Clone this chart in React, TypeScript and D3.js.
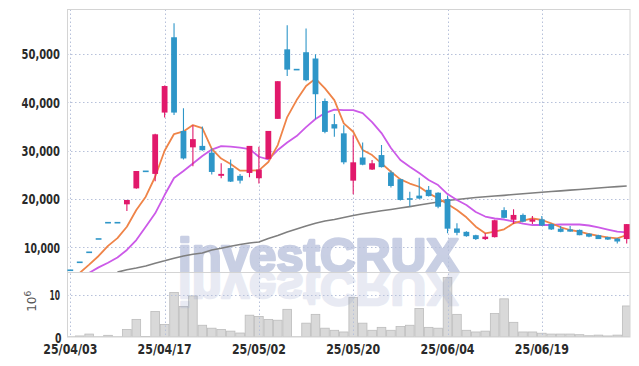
import React from "react";
import * as d3 from "d3";

const dates = [
  "25/04/03","25/04/04","25/04/07","25/04/08","25/04/09","25/04/10","25/04/11","25/04/14","25/04/15","25/04/16",
  "25/04/17","25/04/18","25/04/21","25/04/22","25/04/23","25/04/24","25/04/25","25/04/28","25/04/29","25/04/30",
  "25/05/02","25/05/07","25/05/08","25/05/09","25/05/12","25/05/13","25/05/14","25/05/15","25/05/16","25/05/19",
  "25/05/20","25/05/21","25/05/22","25/05/23","25/05/26","25/05/27","25/05/28","25/05/29","25/05/30","25/06/02",
  "25/06/04","25/06/05","25/06/09","25/06/10","25/06/11","25/06/12","25/06/13","25/06/16","25/06/17","25/06/18",
  "25/06/19","25/06/20","25/06/23","25/06/24","25/06/25","25/06/26","25/06/27","25/06/30","25/07/01","25/07/02",
];

const openP = [
  5240, 6890, 8960, 11720, 15090, 15090, 18900, 22200, 25730, 25200,
  37900, 53500, 34100, 30700, 31000, 29600, 24800, 26400, 24800, 25400,
  24300, 28300, 36600, 51000, 46800, 50400, 49100, 40300, 35500, 33600,
  23800, 28600, 26100, 29100, 25500, 24100, 20100, 20700, 21900, 21300,
  20000, 13900, 13200, 12500, 11700, 12100, 17700, 15700, 16700, 15300,
  15800, 14800, 13850, 13700, 13600, 12800, 12500, 12100, 11800, 11700,
];
const highP = [
  5240, 6890, 8960, 11720, 15090, 15090, 19800, 25800, 25730, 33500,
  43500, 56400, 38800, 35300, 35000, 30500, 27400, 28200, 25200, 31000,
  30800, 34100, 44400, 56000, 46800, 55300, 50000, 40800, 37600, 35300,
  33200, 31700, 28100, 31200, 25900, 24200, 21500, 24400, 22700, 21400,
  20700, 15000, 13300, 12600, 12900, 15700, 18300, 17900, 17000, 16500,
  16500, 14900, 14400, 14400, 13700, 12900, 12600, 12200, 11900, 14800,
];
const lowP = [
  5240, 6890, 8960, 11720, 15090, 15090, 17500, 22100, 25730, 23700,
  36900, 37400, 28200, 26800, 30000, 25100, 24300, 23500, 23200, 24500,
  23200, 28300, 36600, 45500, 46800, 44400, 36500, 33600, 32900, 27200,
  21000, 27000, 26000, 26500, 22400, 19700, 18500, 20000, 20500, 18100,
  12900, 12500, 12200, 11500, 11500, 12000, 16000, 14800, 15200, 14800,
  14400, 13600, 13100, 13200, 12500, 12100, 11700, 11500, 10800, 10800,
];
const closeP = [
  5240, 6890, 8960, 11720, 15090, 15090, 19800, 25800, 25730, 33400,
  43400, 37900, 28400, 32400, 30100, 25600, 25200, 23600, 23800, 31000,
  26100, 34100, 44400, 46800, 46800, 44600, 41700, 33900, 34600, 27600,
  27600, 27100, 27400, 26600, 22700, 19800, 19900, 20100, 20600, 18400,
  13850, 13000, 12300, 11700, 12200, 15600, 16100, 16700, 15300, 15800,
  14500, 13700, 13200, 13250, 12500, 12200, 11700, 11600, 11200, 14800,
];
// volume in millions of shares
const volume = [
  0.05, 0.25, 0.7, 0.05, 0.4, 0.05, 1.8, 4.2, 0.1, 6.1,
  3.0, 10.6, 7.3, 9.8, 2.8, 2.1, 1.8, 1.4, 0.95, 5.2,
  4.9, 4.2, 4.0, 6.6, 0.05, 3.3, 5.4, 2.1, 1.6, 1.2,
  9.4, 3.3, 1.6, 2.3, 1.6, 2.5, 2.8, 6.8, 2.3, 2.1,
  14.2, 5.4, 1.6, 1.2, 1.4, 5.6, 9.1, 3.5, 1.2, 1.2,
  0.9, 0.7, 0.7, 0.7, 0.55, 0.3, 0.45, 0.25, 0.45, 7.4,
];
const ma5: (number | null)[] = [
  null, 4700, 6400, 8200, 10300, 11900, 14260, 17720, 20470, 24610,
  29990, 33450, 34000, 35310, 34700, 30400, 28380, 27240, 25860, 25860,
  25940, 27660, 31170, 36970, 40490, 43390, 44940, 42910, 40490, 35670,
  33930, 30140, 29100, 27390, 25650, 24070, 23200, 22540, 21170, 20140,
  18960, 17720, 16210, 14260, 12900, 13230, 13720, 14970, 15500, 16000,
  15650, 14970, 14140, 13580, 13230, 12750, 12340, 12070, 11860, 12540,
];
const ma10: (number | null)[] = [
  null, null, 4700, 5840, 6810, 7890, 9440, 11500, 14260, 17040,
  20820, 24340, 25790, 27340, 28900, 30240, 30970, 30860, 30660, 30350,
  28750, 28210, 30140, 31690, 33040, 34900, 36560, 37800, 38520, 38420,
  38420, 37800, 35940, 33660, 30550, 28070, 26680, 25380, 23930, 22890,
  21030, 19790, 18750, 17310, 16370, 15960, 15750, 15340, 14920, 14610,
  14610, 14610, 14720, 14760, 14720, 14510, 14140, 13680, 13230, 13100,
];
const maLong: (number | null)[] = [
  null, null, null, null, null, 4850, 5340, 5710, 6130, 6710,
  7200, 7740, 8200, 8550, 8820, 9440, 9790, 10200, 10580, 10890,
  11100, 11820, 12440, 13170, 13790, 14410, 14990, 15440, 15750, 16170,
  16580, 16930, 17260, 17550, 17840, 18130, 18420, 18750, 19060, 19380,
  19690, 19890, 20100, 20310, 20470, 20620, 20760, 20930, 21090, 21240,
  21400, 21550, 21690, 21840, 21980, 22130, 22270, 22420, 22560, 22690,
];

const priceTicks = [10000, 20000, 30000, 40000, 50000];
const volumeTicks = [0, 10];
const dateTickIdx = [0, 10, 20, 30, 40, 50];

const W = 639;
const H = 366;
const L = 67;
const R = 630;
const TOP = 9.5;
const MID = 272;
const BOT = 337;

const UP = "#e1196b";
const DOWN = "#2e96c8";
const FONT = "'DejaVu Sans Condensed', 'DejaVu Sans', sans-serif";

export default function App() {
  const idx = d3.range(dates.length);
  const x = d3.scalePoint<number>().domain(idx).range([L, R]).padding(0.35);
  const yP = d3.scaleLinear().domain([4880, 59250]).range([MID, TOP]);
  const yV = d3.scaleLinear().domain([0, 15.5]).range([BOT, MID]);
  const step = x.step();

  const mkLine = (arr: (number | null)[]) =>
    d3
      .line<number | null>()
      .defined((d) => d != null)
      .x((_, i) => x(i) as number)
      .y((d) => yP(d as number))(arr) || "";

  const fmt = d3.format(",");

  const wm = (
    <text
      x={178}
      y={MID}
      fontFamily="'Liberation Sans', Arial, sans-serif"
      fontWeight="bold"
      fontSize={49}
      textLength={281}
      lengthAdjust="spacingAndGlyphs"
      fill="#8e9cc6"
      stroke="#8e9cc6"
      strokeWidth={2.6}
      strokeLinejoin="round"
    >
      investCRUX
    </text>
  );

  return (
    <svg
      width={W}
      height={H}
      style={{ position: "absolute", left: 0, top: 0, background: "#fff" }}
    >
      <defs>
        <clipPath id="cp-price">
          <rect x={L} y={TOP} width={R - L} height={MID - TOP} />
        </clipPath>
        <clipPath id="cp-vol">
          <rect x={L} y={MID} width={R - L} height={BOT - MID} />
        </clipPath>
      </defs>

      {/* volume bars */}
      <g clipPath="url(#cp-vol)">
        {volume.map((v, i) => (
          <rect
            key={i}
            x={(x(i) as number) - step / 2 + 0.4}
            y={yV(v)}
            width={step - 0.8}
            height={BOT - yV(v)}
            fill="#d9d9d9"
            stroke="#bcbcbc"
            strokeWidth={0.8}
          />
        ))}
      </g>

      {/* watermark */}
      <g clipPath="url(#cp-price)">
        <g opacity={0.48}>{wm}</g>
      </g>
      <g clipPath="url(#cp-vol)">
        <g opacity={0.2} transform={`translate(0,${2 * MID}) scale(1,-1)`}>
          {wm}
        </g>
      </g>

      {/* grid */}
      <g stroke="#b7c1da" strokeWidth={1} strokeDasharray="1.5,2.5">
        {priceTicks.map((t) => (
          <line key={t} x1={L} x2={R} y1={Math.round(yP(t)) + 0.5} y2={Math.round(yP(t)) + 0.5} />
        ))}
        {volumeTicks
          .filter((t) => t > 0)
          .map((t) => (
            <line key={t} x1={L} x2={R} y1={Math.round(yV(t)) + 0.5} y2={Math.round(yV(t)) + 0.5} />
          ))}
        {dateTickIdx.map((i) => (
          <line
            key={i}
            x1={Math.round(x(i) as number) + 0.5}
            x2={Math.round(x(i) as number) + 0.5}
            y1={TOP}
            y2={BOT}
          />
        ))}
      </g>

      {/* frame */}
      <g stroke="#d4d4d4" strokeWidth={1} fill="none">
        <rect x={L + 0.5} y={TOP} width={R - L - 0.5} height={BOT - TOP} />
        <line x1={L} x2={R} y1={MID + 0.5} y2={MID + 0.5} />
      </g>

      {/* moving averages */}
      <g clipPath="url(#cp-price)" fill="none" strokeLinejoin="round">
        <path d={mkLine(maLong)} stroke="#7f7f7f" strokeWidth={1.6} />
        <path d={mkLine(ma10)} stroke="#cc5ae8" strokeWidth={1.8} />
        <path d={mkLine(ma5)} stroke="#ef8448" strokeWidth={1.8} />
      </g>

      {/* candles */}
      <g clipPath="url(#cp-price)">
        {idx.map((i) => {
          const o = openP[i];
          const c = closeP[i];
          const col = c > o ? UP : DOWN;
          const cx = x(i) as number;
          const top = yP(Math.max(o, c));
          const bot = yP(Math.min(o, c));
          const flat = bot - top < 1.6;
          const h = flat ? 1.6 : bot - top;
          return (
            <g key={i}>
              <line
                x1={cx}
                x2={cx}
                y1={yP(highP[i])}
                y2={yP(lowP[i])}
                stroke={col}
                strokeWidth={1.1}
              />
              <rect
                x={cx - 2.9}
                y={flat ? (top + bot) / 2 - 0.8 : top}
                width={5.8}
                height={h}
                fill={col}
              />
            </g>
          );
        })}
      </g>

      {/* y labels price */}
      <g fontFamily={FONT} fontWeight="bold" fontSize={14.5} fill="#2a2a2a" textAnchor="end">
        {priceTicks.map((t) => (
          <text
            key={t}
            x={60}
            y={yP(t)}
            dy="0.36em"
            textLength={t === 10000 ? 36 : 38.5}
            lengthAdjust="spacingAndGlyphs"
          >
            {fmt(t)}
          </text>
        ))}
      </g>
      {/* y labels volume */}
      <g fontFamily={FONT} fontWeight="bold" fontSize={14.5} fill="#2a2a2a" textAnchor="end">
        {volumeTicks.map((t) => (
          <text
            key={t}
            x={t === 0 ? 61.5 : 60}
            y={yV(t) + (t === 0 ? 1 : 0)}
            dy="0.36em"
            textLength={t === 0 ? 6.5 : 10.5}
            lengthAdjust="spacingAndGlyphs"
          >
            {t}
          </text>
        ))}
      </g>
      <text
        transform={`translate(35.5,${yV(8.5)}) rotate(-90)`}
        textAnchor="middle"
        fontFamily="'DejaVu Sans', sans-serif"
        fontSize={12}
        fill="#555"
      >
        10
        <tspan dy={-5} fontSize={9}>
          6
        </tspan>
      </text>

      {/* x labels */}
      <g fontFamily={FONT} fontWeight="bold" fontSize={14.5} fill="#2a2a2a" textAnchor="middle">
        {dateTickIdx.map((i) => (
          <text
            key={i}
            x={x(i) as number}
            y={348.5}
            dy="0.36em"
            textLength={54}
            lengthAdjust="spacingAndGlyphs"
          >
            {dates[i]}
          </text>
        ))}
      </g>
    </svg>
  );
}
